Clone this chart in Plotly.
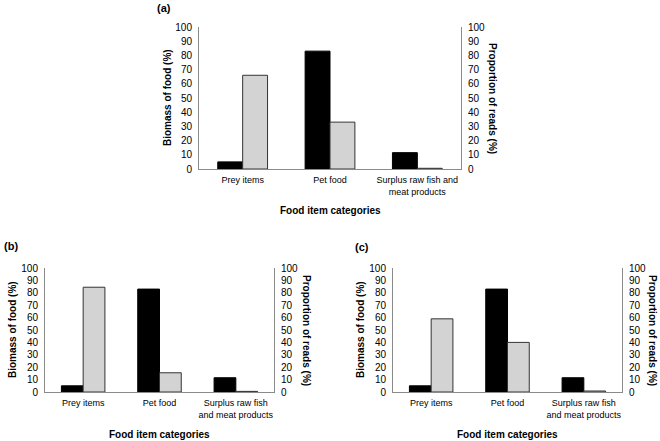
import plotly.graph_objects as go

categories_a = ["Prey items", "Pet food", "Surplus raw fish and<br>meat products"]
categories_bc = ["Prey items", "Pet food", "Surplus raw fish<br>and meat products"]
biomass = [5, 83, 11.5]
reads_a = [66, 33, 0.5]
reads_b = [84.5, 15.5, 0.5]
reads_c = [59, 40, 0.8]
y_ticks = [0, 10, 20, 30, 40, 50, 60, 70, 80, 90, 100]

W, H = 660, 441
FONT = "Liberation Sans, Arial, sans-serif"
AXC = "#8a8a8a"

def px_x(x):
    return x / W

def px_y(y):
    return 1 - y / H

panels = [
    ("(a)", categories_a, reads_a, 199, 461, 27, 169),
    ("(b)", categories_bc, reads_b, 45, 274, 268, 392),
    ("(c)", categories_bc, reads_c, 393, 622, 268, 392),
]

fig = go.Figure()
layout = dict(
    width=W, height=H, margin=dict(l=0, r=0, t=0, b=0, autoexpand=False),
    plot_bgcolor="white", paper_bgcolor="white",
    barmode="group", bargap=0.43, bargroupgap=0,
    showlegend=False, font=dict(family=FONT, color="#000000"),
)
annotations = []

for i, (lab, cats, reads, x0, x1, yt, yb) in enumerate(panels):
    xi = i + 1
    yl = 2 * i + 1
    yr = 2 * i + 2
    xname = "x" if xi == 1 else f"x{xi}"
    ylname = "y" if yl == 1 else f"y{yl}"
    yrname = f"y{yr}"
    fig.add_trace(go.Bar(x=cats, y=biomass, xaxis=xname, yaxis=ylname, offsetgroup="1",
                         marker=dict(color="#000000", line=dict(color="#000000", width=1))))
    fig.add_trace(go.Bar(x=cats, y=reads, xaxis=xname, yaxis=yrname, offsetgroup="2",
                         marker=dict(color="#d3d3d3", line=dict(color="#333333", width=1))))
    xkey = "xaxis" if xi == 1 else f"xaxis{xi}"
    ylkey = "yaxis" if yl == 1 else f"yaxis{yl}"
    yrkey = f"yaxis{yr}"
    layout[xkey] = dict(
        domain=[px_x(x0), px_x(x1)], anchor=ylname, automargin=False,
        showline=True, linecolor=AXC, linewidth=1, ticks="",
        showgrid=False, tickfont=dict(size=9, family=FONT, color="#000000"),
        ticklabelstandoff=2,
    )
    layout[ylkey] = dict(
        domain=[px_y(yb), px_y(yt)], anchor=xname, range=[0, 100], automargin=False,
        tickvals=y_ticks, showline=True, linecolor=AXC, linewidth=1,
        ticks="", showgrid=False, zeroline=False,
        tickfont=dict(size=10, family=FONT, color="#000000"),
        ticklabelstandoff=4,
    )
    layout[yrkey] = dict(
        overlaying=ylname, side="right", anchor=xname, range=[0, 100], automargin=False,
        tickvals=y_ticks, showline=True, linecolor=AXC, linewidth=1,
        ticks="", showgrid=False, zeroline=False,
        tickfont=dict(size=10, family=FONT, color="#000000"),
        ticklabelstandoff=4,
    )
    ymid = (yt + yb) / 2
    xmid = (x0 + x1) / 2
    if i == 0:
        lt_x, rt_x, xt_y, lab_xy = 167, 493, 210, (155, 8)
    elif i == 1:
        lt_x, rt_x, xt_y, lab_xy = 12, 307, 434, (2, 246)
    else:
        lt_x, rt_x, xt_y, lab_xy = 360, 653, 434, (353, 247)
    annotations.append(dict(text="<b>Biomass of food (%)</b>", x=px_x(lt_x), y=px_y(ymid),
                            xref="paper", yref="paper", showarrow=False, textangle=-90,
                            font=dict(size=10, family=FONT), xanchor="center", yanchor="middle"))
    annotations.append(dict(text="<b>Proportion of reads (%)</b>", x=px_x(rt_x), y=px_y(ymid),
                            xref="paper", yref="paper", showarrow=False, textangle=90,
                            font=dict(size=10, family=FONT), xanchor="center", yanchor="middle"))
    annotations.append(dict(text="<b>Food item categories</b>", x=px_x(xmid), y=px_y(xt_y),
                            xref="paper", yref="paper", showarrow=False,
                            font=dict(size=10, family=FONT), xanchor="center", yanchor="middle"))
    annotations.append(dict(text=f"<b>{lab}</b>", x=px_x(lab_xy[0]), y=px_y(lab_xy[1]),
                            xref="paper", yref="paper", showarrow=False,
                            font=dict(size=11, family=FONT), xanchor="left", yanchor="middle"))

layout["annotations"] = annotations
fig.update_layout(**layout)
fig.write_html(
    "out.html",
    config={"displayModeBar": False},
    post_script="document.body.style.margin='0';document.body.style.overflow='hidden';",
)
